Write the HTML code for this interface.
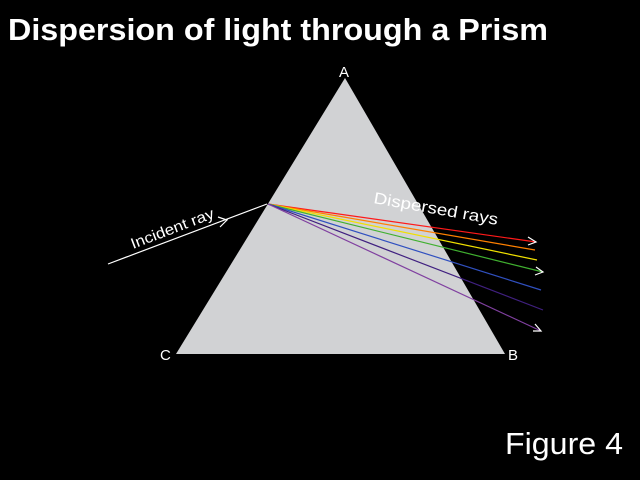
<!DOCTYPE html>
<html><head><meta charset="utf-8"><style>html,body{margin:0;padding:0;background:#000}svg{display:block}</style></head>
<body>
<svg width="640" height="480" viewBox="0 0 640 480" xmlns="http://www.w3.org/2000/svg" font-family="Liberation Sans, sans-serif">
<rect width="640" height="480" fill="#000"/>
<text x="8" y="40" fill="#fff" font-size="31" font-weight="bold" textLength="540" lengthAdjust="spacingAndGlyphs">Dispersion of light through a Prism</text>
<polygon points="345,78 176,354 505,354" fill="#d1d2d4"/>
<text x="339" y="77" fill="#fff" font-size="15">A</text>
<text x="160" y="360" fill="#fff" font-size="15">C</text>
<text x="508" y="360" fill="#fff" font-size="15">B</text>
<line x1="108" y1="264" x2="267" y2="204" stroke="#fff" stroke-width="1.2"/>
<polyline points="218,217 227,220 220,227" fill="none" stroke="#fff" stroke-width="1.2"/>
<text transform="translate(133,249) rotate(-21)" fill="#fff" font-size="15" textLength="88" lengthAdjust="spacingAndGlyphs">Incident ray</text>
<text transform="translate(373,203) rotate(10)" fill="#fff" font-size="16" textLength="126" lengthAdjust="spacingAndGlyphs">Dispersed rays</text>
<g stroke-width="1.2" fill="none">
<line x1="268" y1="204" x2="536" y2="242" stroke="#ff1a1a"/>
<line x1="268" y1="204" x2="535" y2="250" stroke="#ff8000"/>
<line x1="268" y1="204" x2="537" y2="260" stroke="#f0e000"/>
<line x1="268" y1="204" x2="543" y2="272" stroke="#40b030"/>
<line x1="268" y1="204" x2="541" y2="290" stroke="#3050c0"/>
<line x1="268" y1="204" x2="543" y2="310" stroke="#402080"/>
<line x1="268" y1="204" x2="541" y2="331" stroke="#8040a0"/>
</g>
<g stroke="#fff" stroke-width="1.2" fill="none">
<polyline points="528,237 536,242 528,245"/>
<polyline points="536,267 543,272 535,275"/>
<polyline points="535,324 541,331 533,331"/>
</g>
<text x="505" y="454" fill="#fff" font-size="31" textLength="118" lengthAdjust="spacingAndGlyphs">Figure 4</text>
</svg>
</body></html>
